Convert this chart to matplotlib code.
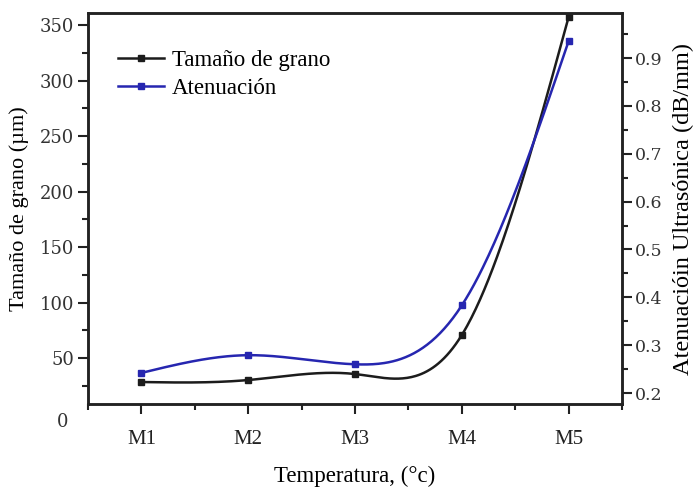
import numpy as np
import matplotlib
matplotlib.use("Agg")
from matplotlib import pyplot as plt
from matplotlib.ticker import MultipleLocator

muestras = ["M1", "M2", "M3", "M4", "M5"]
tamano = [28.4, 30.2, 35.6, 70.7, 357.0]
atenuacion = [0.242, 0.279, 0.260, 0.383, 0.935]

def natural_spline(x, y, n=300):
    x = np.asarray(x, float)
    y = np.asarray(y, float)
    k = len(x)
    h = np.diff(x)
    A = np.zeros((k, k))
    b = np.zeros(k)
    A[0, 0] = 1
    A[-1, -1] = 1
    for i in range(1, k-1):
        A[i, i-1] = h[i-1]
        A[i, i] = 2*(h[i-1]+h[i])
        A[i, i+1] = h[i]
        b[i] = 6*((y[i+1]-y[i])/h[i] - (y[i]-y[i-1])/h[i-1])
    M = np.linalg.solve(A, b)
    xs = np.linspace(x[0], x[-1], n)
    ys = np.zeros(n)
    for j, t in enumerate(xs):
        i = min(np.searchsorted(x, t, side='right')-1, k-2)
        a = x[i+1]-t
        c = t-x[i]
        ys[j] = (M[i]*a**3 + M[i+1]*c**3)/(6*h[i]) + (y[i]/h[i] - M[i]*h[i]/6)*a + (y[i+1]/h[i] - M[i+1]*h[i]/6)*c
    return xs, ys

serif = "Liberation Serif"
tickfont = "DejaVu Serif"
negro = "#1c1c1c"
azul = "#2626b0"

fig = plt.figure(figsize=(6.93, 4.93), dpi=100)
ax = fig.add_axes([0.127, 0.1805, 0.7705, 0.7931])
ax2 = ax.twinx()

xpos = np.arange(1, len(muestras)+1)

xs, ys = natural_spline(xpos, tamano)
ax.plot(xs, ys, color=negro, lw=1.8)
ax.plot(xpos, tamano, ls='none', marker='s', ms=5, color=negro)
xs2, ys2 = natural_spline(xpos, atenuacion)
ax2.plot(xs2, ys2, color=azul, lw=1.8)
ax2.plot(xpos, atenuacion, ls='none', marker='s', ms=5, color=azul)

ax.set_xlim(0.5, 5.5)
ax.set_ylim(8.6, 360.8)
ax2.set_ylim(0.177, 0.994)

ax.set_xticks(xpos)
ax.set_xticklabels(muestras, fontfamily=serif, fontsize=15)
ax.xaxis.set_minor_locator(MultipleLocator(0.5))
ax.set_yticks([50, 100, 150, 200, 250, 300, 350])
ax.yaxis.set_minor_locator(MultipleLocator(25))
ax2.set_yticks([0.2, 0.3, 0.4, 0.5, 0.6, 0.7, 0.8, 0.9])
ax2.yaxis.set_minor_locator(MultipleLocator(0.05))

for a in (ax, ax2):
    for s in a.spines.values():
        s.set_linewidth(1.8)
        s.set_color("#222222")
    a.tick_params(which='major', direction='out', length=7, width=1.5, colors="#222222")
    a.tick_params(which='minor', direction='out', length=4, width=1.5, colors="#222222")
ax.tick_params(axis='x', pad=12)
ax.tick_params(axis='y', pad=3, labelsize=13)
ax2.tick_params(axis='y', pad=2, labelsize=12.5)
ax.tick_params(axis='x', which='both', top=False)
for lab in ax.get_yticklabels() + ax2.get_yticklabels():
    lab.set_fontfamily(tickfont)
    lab.set_color("#333333")

ax.text(-0.037, -0.045, "0", transform=ax.transAxes, ha='right', va='center',
        fontfamily=tickfont, fontsize=13, color="#333333")

ax.set_xlabel("Temperatura, (°c)", fontfamily=serif, fontsize=16.5, labelpad=12)
ax.set_ylabel("Tamaño de grano (µm)", fontfamily=serif, fontsize=16, labelpad=8)
ax2.set_ylabel("Atenuacióin Ultrasónica (dB/mm)", fontfamily=serif, fontsize=17.5, labelpad=8)

h1, = ax.plot([], [], color=negro, lw=1.8, marker='s', ms=5)
h2, = ax.plot([], [], color=azul, lw=1.8, marker='s', ms=5)
ax.legend([h1, h2], ["Tamaño de grano", "Atenuación"], loc='upper left',
          bbox_to_anchor=(0.017, 0.958), frameon=False, handlelength=2.0,
          prop={'family': serif, 'size': 16.5}, labelspacing=0.3, handletextpad=0.35)

fig.savefig("out.png", dpi=100)
